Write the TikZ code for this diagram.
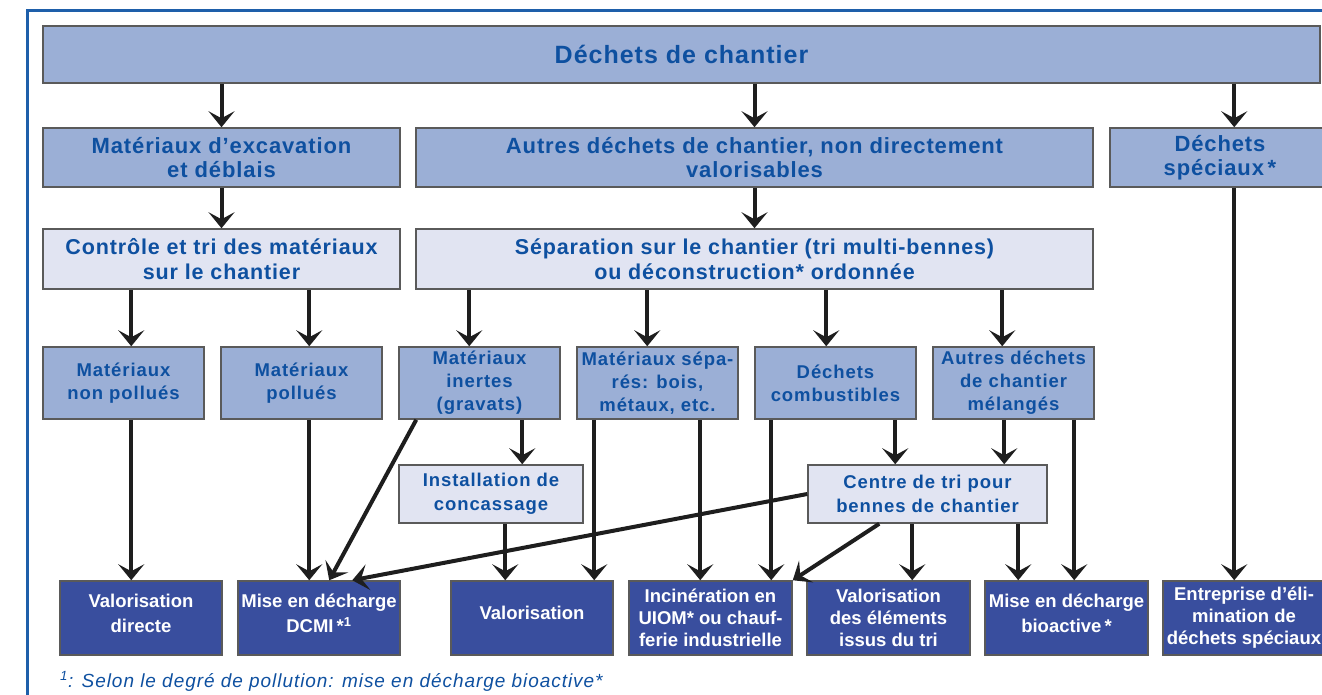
\documentclass[tikz,border=0pt]{standalone}
\usepackage{fontspec}
\setmainfont{Liberation Sans}
\newfontfamily\headfont[LetterSpace=4]{Liberation Sans}
\newfontfamily\cellfont[LetterSpace=5]{Liberation Sans}
\usetikzlibrary{arrows.meta}
\definecolor{frameblue}{RGB}{30,95,170}
\definecolor{txtblue}{RGB}{14,80,160}
\definecolor{midblue}{RGB}{155,175,214}
\definecolor{lightblue}{RGB}{225,228,242}
\definecolor{darkblue}{RGB}{57,78,158}
\definecolor{edgegray}{RGB}{90,90,90}
\definecolor{arrowblack}{RGB}{30,30,30}

\begin{document}
\begin{tikzpicture}[x=1pt,y=-1pt]
	\useasboundingbox (0,0) rectangle (1322,695);
	\clip (0,0) rectangle (1322,695);
	
	\tikzstyle{mnode} = [draw=edgegray,line width=1.5,fill=midblue,text=txtblue,align=center,inner sep=0]
	\tikzstyle{lnode} = [mnode,fill=lightblue]
	\tikzstyle{cnode} = [mnode,minimum width=161,minimum height=72,font=\cellfont\bfseries\fontsize{18.5}{23}\selectfont]
	\tikzstyle{dnode} = [mnode,fill=darkblue,text=white,minimum width=162,minimum height=74,font=\bfseries\fontsize{18.5}{22}\selectfont]
	\tikzstyle{ddnode} = [dnode,font=\bfseries\fontsize{18.5}{25}\selectfont]
	\tikzstyle{aedge} = [-{Stealth[length=16,width=26,inset=7]},line width=4,draw=arrowblack]
	
	\draw[line width=3,draw=frameblue] (27,11) rectangle (1350,720);
	
	% top levels
	\node[mnode,minimum width=1277,minimum height=57,font=\headfont\bfseries\fontsize{25}{28}\selectfont] (top) at (681.5,54.5) {Déchets de chantier};
	\node[mnode,minimum width=357,minimum height=59,font=\headfont\bfseries\fontsize{22}{24}\selectfont] (exc) at (221.5,157.5) {Matériaux d’excavation\\et déblais};
	\node[mnode,minimum width=677,minimum height=59,font=\headfont\bfseries\fontsize{22}{24}\selectfont] (autres) at (754.5,157.5) {Autres déchets de chantier, non directement\\valorisables};
	\node[mnode,minimum width=220,minimum height=59,font=\headfont\bfseries\fontsize{22}{24}\selectfont] (spec) at (1220,157.5) {Déchets\\spéciaux\,*};
	\node[lnode,minimum width=357,minimum height=60,font=\headfont\bfseries\fontsize{21.5}{25}\selectfont] (ctrl) at (221.5,259) {Contrôle et tri des matériaux\\sur le chantier};
	\node[lnode,minimum width=677,minimum height=60,font=\headfont\bfseries\fontsize{21.5}{25}\selectfont] (sep) at (754.5,259) {Séparation sur le chantier (tri multi-bennes)\\ou déconstruction* ordonnée};
	
	% materials
	\node[cnode] (pnp) at (123.5,383) {Matériaux\\non pollués};
	\node[cnode] (pp) at (301.5,383) {Matériaux\\pollués};
	\node[cnode] (inert) at (479.5,383) {Matériaux\\inertes\\(gravats)};
	\node[cnode] (seps) at (657.5,383) {Matériaux sépa-\\rés: bois,\\métaux, etc.};
	\node[cnode] (comb) at (835.5,383) {Déchets\\combustibles};
	\node[cnode] (mel) at (1013.5,383) {Autres déchets\\de chantier\\mélangés};
	
	\node[lnode,minimum width=184,minimum height=58,font=\cellfont\bfseries\fontsize{18.5}{24}\selectfont] (inst) at (491,494) {Installation de\\concassage};
	\node[lnode,minimum width=239,minimum height=58,font=\cellfont\bfseries\fontsize{18.5}{24}\selectfont] (ctr) at (927.5,494) {Centre de tri pour\\bennes de chantier};
	
	% destinations
	\node[ddnode] (vd) at (141,618) {Valorisation\\directe\\[-15pt]};
	\node[ddnode] (dcmi) at (319,618) {Mise en décharge\\DCMI\,*\textsuperscript{1}\\[-15pt]};
	\node[ddnode] (valo) at (532,618) {Valorisation\\[-15pt]};
	\node[dnode,minimum width=163] (inc) at (710.5,618) {Incinération en\\UIOM* ou chauf-\\ferie industrielle};
	\node[dnode,minimum width=163] (velt) at (888.5,618) {Valorisation\\des éléments\\issus du tri};
	\node[ddnode,minimum width=163] (bio) at (1066.5,618) {Mise en décharge\\bioactive\,*\\[-15pt]};
	\node[dnode] (ent) at (1244,618) {Entreprise d’éli-\\mination de\\déchets spéciaux};
	
	\node[anchor=base west,text=txtblue,inner sep=0,font=\cellfont\itshape\fontsize{19}{22}\selectfont] (note) at (60,687) {\textsuperscript{1}: Selon le degré de pollution: mise en décharge bioactive*};
	
	\draw (top.south -| exc.north) edge [aedge] (exc.north);
	\draw (top.south -| autres.north) edge [aedge] (autres.north);
	\draw ([xshift=1192]top.south west) edge [aedge] ([xshift=125]spec.north west);
	\draw (exc.south) edge [aedge] (ctrl.north);
	\draw (autres.south) edge [aedge] (sep.north);
	
	\draw ([xshift=89]ctrl.south west) edge [aedge] ([xshift=89]pnp.north west);
	\draw ([xshift=267]ctrl.south west) edge [aedge] ([xshift=89]pp.north west);
	\draw ([xshift=54]sep.south west) edge [aedge] ([xshift=71]inert.north west);
	\draw ([xshift=232]sep.south west) edge [aedge] ([xshift=71]seps.north west);
	\draw ([xshift=411]sep.south west) edge [aedge] ([xshift=72]comb.north west);
	\draw ([xshift=587]sep.south west) edge [aedge] ([xshift=70]mel.north west);
	
	\draw ([xshift=89]pnp.south west) edge [aedge] ([xshift=72]vd.north west);
	\draw ([xshift=89]pp.south west) edge [aedge] ([xshift=72]dcmi.north west);
	\draw ([xshift=18]inert.south west) edge [aedge] ([xshift=92]dcmi.north west);
	\draw ([xshift=124]inert.south west) edge [aedge] ([xshift=124]inst.north west);
	\draw ([xshift=107]inst.south west) edge [aedge] ([xshift=55]valo.north west);
	\draw ([xshift=18]seps.south west) edge [aedge] ([xshift=144]valo.north west);
	\draw ([xshift=124]seps.south west) edge [aedge] ([xshift=72]inc.north west);
	\draw ([xshift=17]comb.south west) edge [aedge] ([xshift=143]inc.north west);
	\draw ([xshift=141]comb.south west) edge [aedge] ([xshift=88]ctr.north west);
	\draw ([xshift=72]mel.south west) edge [aedge] ([xshift=197]ctr.north west);
	\draw ([xshift=142]mel.south west) edge [aedge] ([xshift=90]bio.north west);
	
	\draw (ctr.west) edge [aedge] ([xshift=115]dcmi.north west);
	\draw ([xshift=72]ctr.south west) edge [aedge] (inc.north east);
	\draw ([xshift=105]ctr.south west) edge [aedge] ([xshift=106]velt.north west);
	\draw ([xshift=211]ctr.south west) edge [aedge] ([xshift=34]bio.north west);
	\draw ([xshift=125]spec.south west) edge [aedge] ([xshift=72]ent.north west);

\end{tikzpicture}
\end{document}
